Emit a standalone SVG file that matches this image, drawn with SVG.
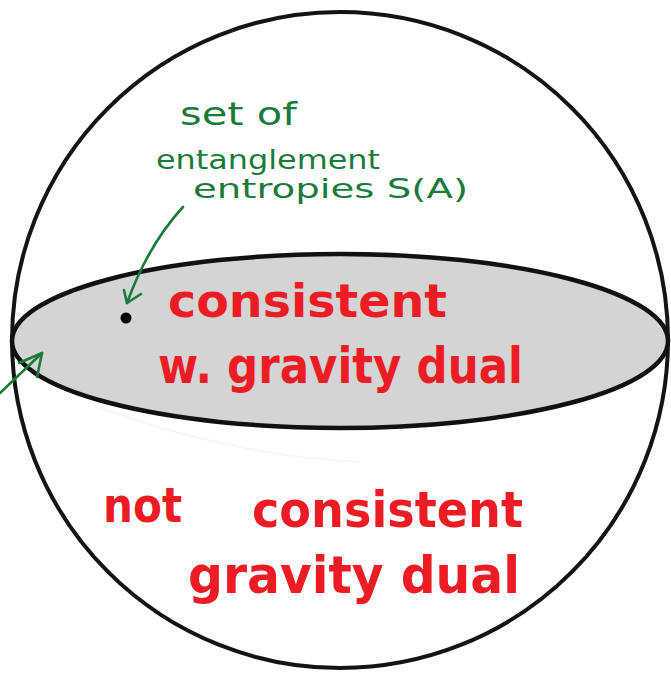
<svg xmlns="http://www.w3.org/2000/svg" width="671" height="673" viewBox="0 0 671 673">
<style>
.red{fill:#ed1c24;font-family:"DejaVu Sans","Liberation Sans",sans-serif;font-weight:bold}
.grn{fill:#1a7a3a;font-family:"DejaVu Sans","Liberation Sans",sans-serif}
.arr{fill:none;stroke:#1a7a3a;stroke-width:2.6;stroke-linecap:round;stroke-linejoin:round}
</style>
<rect width="671" height="673" fill="#ffffff"/>
<g id="sphere">
<circle cx="340" cy="340" r="328" fill="none" stroke="#141414" stroke-width="4"/>
<path d="M100 408 Q230 455 360 462" fill="none" stroke="#f7f7f7" stroke-width="2"/>
</g>
<g id="disk">
<ellipse cx="340" cy="341" rx="328" ry="87" fill="#d4d4d4" stroke="#111111" stroke-width="4.5"/>
</g>
<g id="point">
<circle cx="126" cy="318" r="5.5" fill="#000000"/>
</g>
<g id="label-entropies">
<text class="grn" x="180" y="125" font-size="32" textLength="117" lengthAdjust="spacingAndGlyphs">set of</text>
<text class="grn" x="156" y="169" font-size="26" textLength="224" lengthAdjust="spacingAndGlyphs">entanglement</text>
<text class="grn" x="193" y="198" font-size="27" textLength="275" lengthAdjust="spacingAndGlyphs">entropies S(A)</text>
</g>
<g id="label-consistent">
<text class="red" x="168" y="317" font-size="46" textLength="279" lengthAdjust="spacingAndGlyphs">consistent</text>
<text class="red" x="158" y="383" font-size="50" textLength="365" lengthAdjust="spacingAndGlyphs">w. gravity dual</text>
</g>
<g id="label-not-consistent">
<text class="red" x="103" y="522" font-size="48" textLength="79" lengthAdjust="spacingAndGlyphs">not</text>
<text class="red" x="252" y="527" font-size="50" textLength="271" lengthAdjust="spacingAndGlyphs">consistent</text>
<text class="red" x="188" y="593" font-size="52" textLength="332" lengthAdjust="spacingAndGlyphs">gravity dual</text>
</g>
<g id="connectors">
<path class="arr" d="M183 207 Q148 245 127 303"/>
<path class="arr" d="M124 290 L127 303 L141 294"/>
<path class="arr" d="M0 393 L42 353"/>
<path class="arr" d="M19 363 L42 353 L37 377"/>
</g>
</svg>
